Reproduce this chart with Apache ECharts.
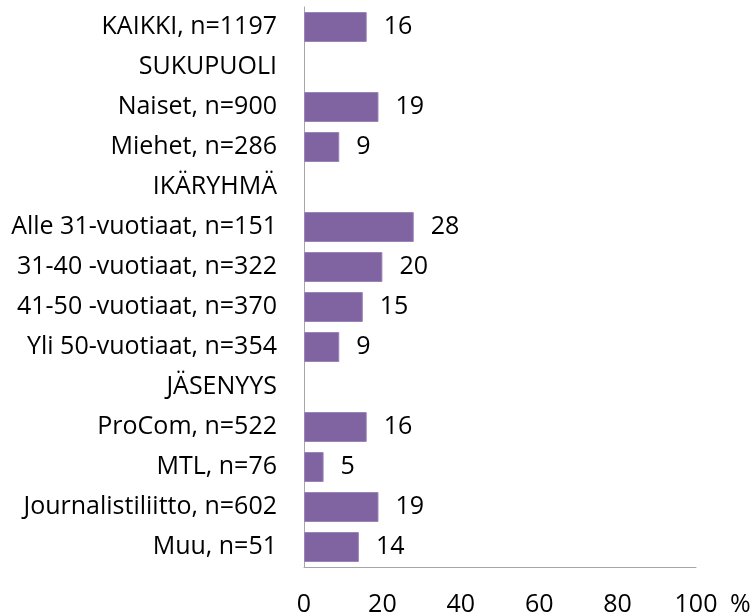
<!DOCTYPE html>
<html>
<head>
<meta charset="utf-8">
<title>Chart</title>
<script src="https://cdn.jsdelivr.net/npm/echarts@6/dist/echarts.min.js"></script>
<style>
    html, body { margin: 0; padding: 0; background: #fff; }
    #main { width: 754px; height: 615px; }
</style>
</head>
<body>
<div id="main"></div>
<script>
    // ryhmat ylhaalta alas
    var categories = ['KAIKKI, n=1197', 'SUKUPUOLI', 'Naiset, n=900', 'Miehet, n=286',
        'IKÄRYHMÄ', 'Alle 31-vuotiaat, n=151', '31-40 -vuotiaat, n=322', '41-50 -vuotiaat, n=370',
        'Yli 50-vuotiaat, n=354', 'JÄSENYYS', 'ProCom, n=522', 'MTL, n=76',
        'Journalistiliitto, n=602', 'Muu, n=51'];
    var values = [16, null, 19, 9, null, 28, 20, 15, 9, null, 16, 5, 19, 14];
    var xTicks = [0, 20, 40, 60, 80, 100];

    var font = '"Open Sans", sans-serif';
    var fs = 25;
    var chart = echarts.init(document.getElementById('main'));

    var option = {
        animation: false,
        grid: { left: 304, right: 58, top: 7, bottom: 48, outerBoundsMode: 'none' },
        xAxis: {
            type: 'value',
            min: xTicks[0],
            max: xTicks[xTicks.length - 1],
            interval: xTicks[1] - xTicks[0],
            name: '%',
            nameLocation: 'end',
            nameGap: 34,
            nameTextStyle: { color: '#000', fontFamily: font, fontSize: fs, align: 'left', verticalAlign: 'top', padding: [25, 0, 0, 0] },
            axisLine: { show: true, lineStyle: { color: '#a6a6a6', width: 1 } },
            axisTick: { show: false },
            splitLine: { show: false },
            axisLabel: { color: '#000', fontFamily: font, fontSize: fs, margin: 25 }
        },
        yAxis: {
            type: 'category',
            inverse: true,
            data: categories,
            axisLine: { show: true, lineStyle: { color: '#a6a6a6', width: 1 } },
            axisTick: { show: false },
            axisLabel: { color: '#000', fontFamily: font, fontSize: fs, margin: 27 }
        },
        series: [{
            type: 'bar',
            data: values,
            barCategoryGap: '25%',
            itemStyle: { color: '#8064a2', borderColor: '#9b84b8', borderWidth: 1 },
            label: {
                show: true,
                position: 'right',
                distance: 17,
                color: '#000',
                fontFamily: font,
                fontSize: fs
            }
        }]
    };
    chart.setOption(option);
</script>
</body>
</html>
